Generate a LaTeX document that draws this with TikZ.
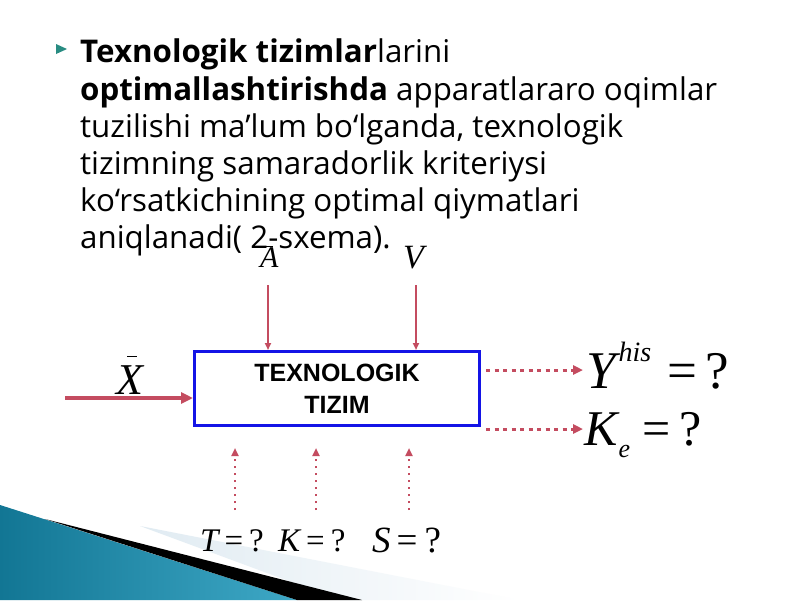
\documentclass[tikz,border=0pt]{standalone}
\usepackage{fontspec}
\setmainfont{Open Sans}
\newfontfamily\tms{Liberation Serif}
\newfontfamily\boxfont{Liberation Sans}
\usetikzlibrary{arrows.meta}

\definecolor{arrowred}{RGB}{196,76,96}
\definecolor{boxblue}{RGB}{20,20,230}
\definecolor{tealdark}{RGB}{18,118,148}
\definecolor{teallight}{RGB}{62,168,198}
\definecolor{slab}{RGB}{224,235,242}
\definecolor{bulletteal}{RGB}{40,140,130}

% italic letter with a short bar over it
\newcommand{\barletter}[3]{{\tms\itshape #1}\llap{\raisebox{#2}{\rule{#3}{1.3pt}}\kern6pt}}

\begin{document}
\begin{tikzpicture}[x=1pt, y=-1pt,
    inarrow/.style={arrowred, line width=2pt, -{Triangle[length=7pt, width=6pt]}},
    outarrow/.style={arrowred, line width=3pt, dash pattern=on 4pt off 4.5pt,
        -{Triangle[length=10pt, width=9pt]}},
    uparrow/.style={arrowred, line width=2pt, dash pattern=on 2.5pt off 4.5pt,
        -{Triangle[length=8pt, width=7pt]}},
    mathlbl/.style={inner sep=0pt, anchor=base west}]
    \useasboundingbox (0,0) rectangle (800,600);
    \fill[white] (0,0) rectangle (800,600);

    % corner decoration
    \shade[left color=slab, right color=white] (140,526) -- (520,600) -- (340,600) -- cycle;
    \shade[left color=tealdark, right color=teallight] (0,505) -- (297,600) -- (0,600) -- cycle;
    \fill[black] (45,519) -- (362,600) -- (297,600) -- cycle;

    \fill[bulletteal] (56,44) -- (67,49) -- (56,54) -- cycle;
    \node[anchor=north west, inner sep=0pt, align=left,
        font=\fontsize{31.3}{37.2}\selectfont] (body) at (80,39)
        {\textbf{Texnologik tizimlar}larini\\
        \textbf{optimallashtirishda} apparatlararo oqimlar\\
        tuzilishi ma’lum bo‘lganda, texnologik\\
        tizimning samaradorlik kriteriysi\\
        ko‘rsatkichining optimal qiymatlari\\
        aniqlanadi( 2-sxema).};

    \node[draw=boxblue, line width=3pt, minimum width=285pt, minimum height=74pt,
        inner sep=0pt, align=center, font=\boxfont\bfseries\fontsize{25}{32}\selectfont]
        (tizim) at (337,388.5) {TEXNOLOGIK\\TIZIM};

    \node[mathlbl, font=\fontsize{44}{44}\selectfont] (xlbl) at (116,394) {\barletter{X}{37pt}{10pt}};
    \node[mathlbl, font=\fontsize{30}{30}\selectfont] (albl) at (260,267) {\barletter{A}{20pt}{9pt}};
    \node[mathlbl, font=\tms\fontsize{34}{34}\selectfont] (vlbl) at (403,268) {\itshape V};

    \coordinate (xstart) at (65,398);
    \coordinate (atop) at (268,285);
    \coordinate (vtop) at (416,285);
    \draw[inarrow, line width=4pt, -{Triangle[length=12pt, width=11pt]}] (xstart) -- (xstart -| tizim.west);
    \draw[inarrow] (atop) -- (atop |- tizim.north);
    \draw[inarrow] (vtop) -- (vtop |- tizim.north);

    \node[mathlbl, font=\tms\fontsize{53}{53}\selectfont] (ylbl) at (586,388)
        {\itshape Y\kern3pt\raisebox{27pt}{\fontsize{28}{28}\selectfont his}\kern16pt\upshape=\kern8pt?};
    \node[mathlbl, font=\tms\fontsize{50}{50}\selectfont] (klbl) at (584,445)
        {\itshape K\kern1pt\raisebox{-12pt}{\fontsize{26}{26}\selectfont e}\kern12pt\upshape=\kern9pt?};

    \coordinate (yin) at (583,370);
    \coordinate (kin) at (583,429);
    \draw[outarrow, shorten <=5pt] (tizim.east |- yin) -- (yin);
    \draw[outarrow, shorten <=5pt] (tizim.east |- kin) -- (kin);

    \node[mathlbl, font=\tms\fontsize{33}{33}\selectfont] (tlbl) at (200,551) {\itshape T\kern6pt\upshape=\kern6pt?};
    \node[mathlbl, font=\tms\fontsize{33}{33}\selectfont] (kqlbl) at (278,551) {\itshape K\kern6pt\upshape=\kern6pt?};
    \node[mathlbl, font=\tms\fontsize{37}{37}\selectfont] (slbl) at (372,552) {\itshape S\kern6pt\upshape=\kern7pt?};

    \coordinate (tbot) at (235,510);
    \coordinate (kbot) at (316,510);
    \coordinate (sbot) at (409,510);
    \draw[uparrow, shorten >=21pt] (tbot) -- (tbot |- tizim.south);
    \draw[uparrow, shorten >=21pt] (kbot) -- (kbot |- tizim.south);
    \draw[uparrow, shorten >=21pt] (sbot) -- (sbot |- tizim.south);
\end{tikzpicture}
\end{document}
